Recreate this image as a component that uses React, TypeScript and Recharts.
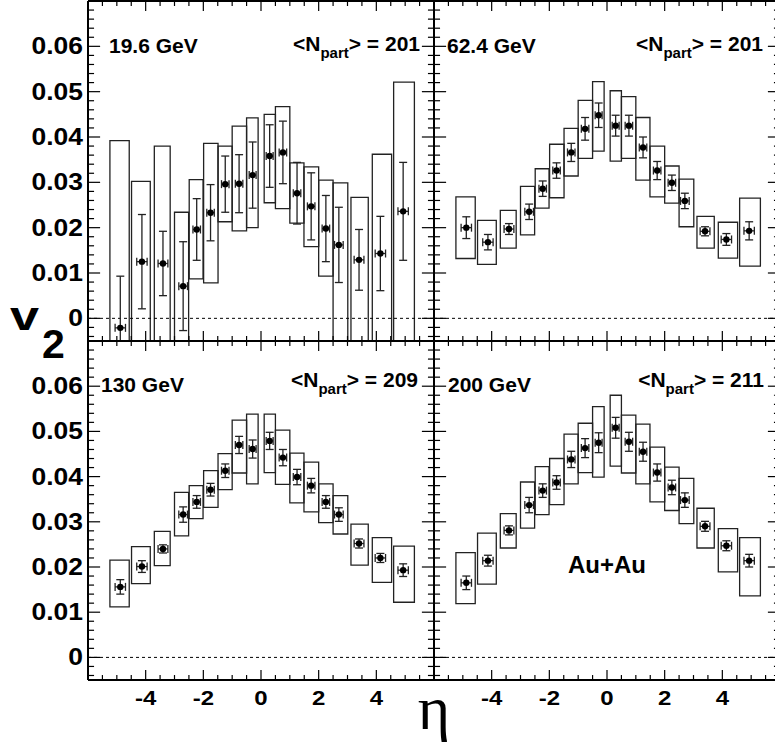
import React from 'react';
import { ComposedChart, Scatter, ErrorBar, XAxis, YAxis, ReferenceArea, ReferenceLine } from 'recharts';

// eta bins (shared by all four energies)
const etaCenters = [-4.88, -4.13, -3.4, -2.7, -2.23, -1.75, -1.24, -0.76, -0.29, 0.3, 0.76, 1.25, 1.74, 2.25, 2.7, 3.4, 4.14, 4.93];
const etaErr = [0.18, 0.18, 0.17, 0.15, 0.13, 0.13, 0.13, 0.13, 0.12, 0.12, 0.13, 0.13, 0.13, 0.13, 0.15, 0.17, 0.18, 0.18];
const boxLo = [-5.24, -4.49, -3.7, -3.0, -2.49, -1.99, -1.49, -1.0, -0.5, 0.11, 0.5, 1.0, 1.49, 2.0, 2.5, 3.12, 3.86, 4.6];
const boxHi = [-4.57, -3.84, -3.15, -2.51, -2.01, -1.49, -1.0, -0.5, -0.1, 0.5, 1.0, 1.49, 2.0, 2.5, 3.01, 3.72, 4.53, 5.32];

// 19.6 GeV
const v2_19 = [-0.0021, 0.0125, 0.0121, 0.0071, 0.0196, 0.0233, 0.0296, 0.0297, 0.0316, 0.0358, 0.0366, 0.0276, 0.0247, 0.0198, 0.0162, 0.0129, 0.0143, 0.0236];
const stat_19 = [0.0114, 0.0104, 0.0071, 0.0098, 0.0068, 0.0062, 0.0062, 0.0064, 0.0073, 0.0069, 0.0069, 0.0068, 0.0074, 0.0073, 0.0083, 0.0067, 0.0082, 0.0108];
const sysHi_19 = [0.0392, 0.0302, 0.038, 0.0234, 0.0306, 0.0386, 0.038, 0.0424, 0.0442, 0.045, 0.0467, 0.0343, 0.0334, 0.0305, 0.0299, 0.0267, 0.0362, 0.0521];
const sysLo_19 = [-0.041, -0.006, -0.014, -0.009, 0.0087, 0.0078, 0.0213, 0.0193, 0.02, 0.0255, 0.0242, 0.021, 0.0158, 0.0093, -0.006, -0.006, -0.008, -0.006];

// 62.4 GeV
const v2_62 = [0.02, 0.0168, 0.0197, 0.0235, 0.0286, 0.0326, 0.0366, 0.0418, 0.0448, 0.0425, 0.0425, 0.0377, 0.0326, 0.0299, 0.0259, 0.0192, 0.0174, 0.0193];
const stat_62 = [0.0024, 0.0017, 0.0012, 0.0017, 0.0017, 0.0017, 0.002, 0.0025, 0.0027, 0.0023, 0.0023, 0.0023, 0.002, 0.0017, 0.0017, 0.001, 0.0013, 0.002];
const sysHi_62 = [0.0268, 0.0216, 0.0238, 0.0291, 0.033, 0.0384, 0.0419, 0.0481, 0.0522, 0.0502, 0.0489, 0.0443, 0.038, 0.0336, 0.0307, 0.0225, 0.0212, 0.0265];
const sysLo_62 = [0.0132, 0.0119, 0.0155, 0.0184, 0.0243, 0.0266, 0.0314, 0.0353, 0.0369, 0.0347, 0.0353, 0.0305, 0.0268, 0.0254, 0.0202, 0.0155, 0.0133, 0.0115];

// 130 GeV
const v2_130 = [0.0156, 0.0201, 0.024, 0.0316, 0.0344, 0.0371, 0.0413, 0.047, 0.0461, 0.0479, 0.0442, 0.0399, 0.038, 0.0344, 0.0316, 0.0252, 0.022, 0.0193];
const stat_130 = [0.0016, 0.0013, 0.0009, 0.0017, 0.0014, 0.0014, 0.0015, 0.0019, 0.002, 0.0019, 0.0018, 0.0017, 0.0016, 0.0014, 0.0015, 0.001, 0.001, 0.0014];
const sysHi_130 = [0.0215, 0.0245, 0.0279, 0.0365, 0.038, 0.0413, 0.0451, 0.0525, 0.0538, 0.0538, 0.0503, 0.0452, 0.0432, 0.0384, 0.0358, 0.0295, 0.0265, 0.0246];
const sysLo_130 = [0.0112, 0.0163, 0.0203, 0.0269, 0.0307, 0.0332, 0.0371, 0.0408, 0.0384, 0.0409, 0.0383, 0.0342, 0.0322, 0.0298, 0.0273, 0.0204, 0.0166, 0.0122];

// 200 GeV
const v2_200 = [0.0165, 0.0214, 0.0281, 0.0337, 0.0369, 0.0387, 0.0438, 0.0463, 0.0475, 0.0508, 0.0477, 0.0455, 0.0409, 0.0376, 0.0348, 0.029, 0.0247, 0.0214];
const stat_200 = [0.0015, 0.0012, 0.001, 0.0017, 0.0015, 0.0015, 0.0018, 0.0021, 0.0022, 0.0023, 0.0021, 0.0021, 0.0019, 0.0016, 0.0016, 0.0011, 0.0011, 0.0014];
const sysHi_200 = [0.0232, 0.0275, 0.0318, 0.0388, 0.0422, 0.044, 0.0494, 0.0518, 0.0555, 0.058, 0.0536, 0.0516, 0.0465, 0.0421, 0.0396, 0.033, 0.0285, 0.0265];
const sysLo_200 = [0.0119, 0.0162, 0.0242, 0.0286, 0.0316, 0.0338, 0.0384, 0.0409, 0.0399, 0.0423, 0.0408, 0.0384, 0.0344, 0.0325, 0.0296, 0.0242, 0.0189, 0.0136];

const energies = ['19.6 GeV', '62.4 GeV', '130 GeV', '200 GeV'];
const nPart = [201, 201, 209, 211];

const xLabels = [-4, -2, 0, 2, 4];
const yLabels = [0, 0.01, 0.02, 0.03, 0.04, 0.05, 0.06];
const xTicks = Array.from({ length: 25 }, (_, i) => -6 + i * 0.5);
const yTicks = Array.from({ length: 38 }, (_, i) => Math.round((-0.004 + i * 0.002) * 1000) / 1000);

const X_DOMAIN: [number, number] = [-6, 6];
const Y_DOMAIN: [number, number] = [-0.005, 0.07];

const FONT = '"Liberation Sans", Arial, Helvetica, sans-serif';
const CHART_W = 782;
const CHART_H = 746;

const near = (a: number, b: number) => Math.abs(a - b) < 1e-6;
const isMajorX = (v: number) => near(v / 2, Math.round(v / 2));
const isMajorY = (v: number) => near(v * 100, Math.round(v * 100));

// tick lengths expressed in data units (major / minor)
const X_TICK_LEN = [0.0022, 0.0011]; // vertical ticks on the eta axes
const Y_TICK_LEN = [0.42, 0.21]; // horizontal ticks on the v2 axes

function xLabel(labels: boolean) {
  return (props: any) => {
    const { x, y, payload } = props;
    const v = payload.value;
    if (!labels || !xLabels.some((l) => near(l, v))) return <g />;
    return (
      <text
        transform={`translate(${x},${y + 25}) scale(1.2,1)`}
        textAnchor="middle"
        fontFamily={FONT}
        fontWeight="bold"
        fontSize={20}
        fill="#000"
      >
        {v}
      </text>
    );
  };
}

function yLabel(labels: boolean) {
  return (props: any) => {
    const { x, y, payload } = props;
    const v = payload.value;
    if (!labels || !yLabels.some((l) => near(l, v))) return <g />;
    return (
      <text
        transform={`translate(${x - 5},${y + 8}) scale(1.15,1)`}
        textAnchor="end"
        fontFamily={FONT}
        fontWeight="bold"
        fontSize={23}
        fill="#000"
      >
        {String(v)}
      </text>
    );
  };
}

const Dot = (p: any) => <circle cx={p.cx} cy={p.cy} r={3.2} fill="#000" />;

interface PanelProps {
  v2: number[];
  stat: number[];
  sysHi: number[];
  sysLo: number[];
  x0: number;
  x1: number;
  y0: number;
  y1: number;
  showX: boolean;
  showY: boolean;
}

function Panel({ v2, stat, sysHi, sysLo, x0, x1, y0, y1, showX, showY }: PanelProps) {
  const points = etaCenters.map((eta, i) => ({ x: eta, y: v2[i], ex: etaErr[i], ey: stat[i] }));
  const axisLine = { stroke: '#000', strokeWidth: 2 };
  const tickStyle = { stroke: '#000', strokeWidth: 1.2, ifOverflow: 'visible' as const };
  // clip each pad so error bars don't spill into neighbouring pads (keep label strips)
  const insetTop = y0 > 10 ? y0 - 1 : 0;
  const insetRight = Math.max(CHART_W - x1 - 1, 0);
  const insetBottom = showX ? 0 : CHART_H - y1 - 1;
  const insetLeft = showY ? 0 : x0 - 1;
  const clip = `inset(${insetTop}px ${insetRight}px ${insetBottom}px ${insetLeft}px)`;
  return (
    <div style={{ position: 'absolute', left: 0, top: 0, clipPath: clip }}>
      <ComposedChart width={CHART_W} height={CHART_H} margin={{ top: 0, right: 0, bottom: 0, left: 0 }}>
        <XAxis
          xAxisId={0}
          type="number"
          dataKey="x"
          domain={X_DOMAIN}
          allowDataOverflow
          ticks={xTicks}
          interval={0}
          tickSize={0}
          tickMargin={0}
          tickLine={false}
          axisLine={axisLine}
          height={CHART_H - y1}
          tick={xLabel(showX)}
        />
        <XAxis
          xAxisId="top"
          orientation="top"
          type="number"
          domain={X_DOMAIN}
          allowDataOverflow
          tick={false}
          tickLine={false}
          axisLine={axisLine}
          height={y0}
        />
        <YAxis
          yAxisId={0}
          type="number"
          dataKey="y"
          domain={Y_DOMAIN}
          allowDataOverflow
          ticks={yTicks}
          interval={0}
          tickSize={0}
          tickMargin={0}
          tickLine={false}
          axisLine={axisLine}
          width={x0}
          tick={yLabel(showY)}
        />
        <YAxis
          yAxisId="right"
          orientation="right"
          type="number"
          domain={Y_DOMAIN}
          allowDataOverflow
          tick={false}
          tickLine={false}
          axisLine={axisLine}
          width={CHART_W - x1}
        />
        {/* inward ticks on all four sides */}
        {xTicks.map((t) => {
          const len = isMajorX(t) ? X_TICK_LEN[0] : X_TICK_LEN[1];
          return [
            <ReferenceLine key={`b${t}`} segment={[{ x: t, y: Y_DOMAIN[0] }, { x: t, y: Y_DOMAIN[0] + len }]} {...tickStyle} />,
            <ReferenceLine key={`t${t}`} segment={[{ x: t, y: Y_DOMAIN[1] }, { x: t, y: Y_DOMAIN[1] - len }]} {...tickStyle} />,
          ];
        })}
        {yTicks.map((t) => {
          const len = isMajorY(t) ? Y_TICK_LEN[0] : Y_TICK_LEN[1];
          return [
            <ReferenceLine key={`l${t}`} segment={[{ x: X_DOMAIN[0], y: t }, { x: X_DOMAIN[0] + len, y: t }]} {...tickStyle} />,
            <ReferenceLine key={`r${t}`} segment={[{ x: X_DOMAIN[1], y: t }, { x: X_DOMAIN[1] - len, y: t }]} {...tickStyle} />,
          ];
        })}
        {boxLo.map((lo, i) => (
          <ReferenceArea
            key={i}
            x1={lo}
            x2={boxHi[i]}
            y1={sysLo[i]}
            y2={sysHi[i]}
            ifOverflow="hidden"
            fill="none"
            fillOpacity={0}
            stroke="#222"
            strokeWidth={1.3}
          />
        ))}
        <ReferenceLine y={0} stroke="#000" strokeWidth={1} strokeDasharray="3 3" ifOverflow="hidden" />
        <Scatter data={points} dataKey="y" isAnimationActive={false} shape={Dot}>
          <ErrorBar dataKey="ey" direction="y" width={4} stroke="#222" strokeWidth={1.3} isAnimationActive={false} />
          <ErrorBar dataKey="ex" direction="x" width={4} stroke="#222" strokeWidth={1.3} isAnimationActive={false} />
        </Scatter>
      </ComposedChart>
    </div>
  );
}

export default function App() {
  const boldText = { fontFamily: FONT, fontWeight: 'bold' as const, fill: '#000' };
  return (
    <div style={{ position: 'fixed', left: 0, top: 0, width: 775, height: 746, overflow: 'hidden', background: '#fff' }}>
      <Panel v2={v2_19} stat={stat_19} sysHi={sysHi_19} sysLo={sysLo_19} x0={88} x1={434} y0={1} y1={341} showX={false} showY />
      <Panel v2={v2_62} stat={stat_62} sysHi={sysHi_62} sysLo={sysLo_62} x0={434} x1={780} y0={1} y1={341} showX={false} showY={false} />
      <Panel v2={v2_130} stat={stat_130} sysHi={sysHi_130} sysLo={sysLo_130} x0={88} x1={434} y0={341} y1={680} showX showY />
      <Panel v2={v2_200} stat={stat_200} sysHi={sysHi_200} sysLo={sysLo_200} x0={434} x1={780} y0={341} y1={680} showX showY={false} />
      <svg width={775} height={746} style={{ position: 'absolute', left: 0, top: 0, pointerEvents: 'none' }}>
        {/* energy labels */}
        <text x={109} y={52.7} fontSize={21} {...boldText}>{energies[0]}</text>
        <text x={447} y={52.7} fontSize={21} {...boldText}>{energies[1]}</text>
        <text x={101} y={391.7} fontSize={21} {...boldText}>{energies[2]}</text>
        <text x={448} y={391.7} fontSize={21} {...boldText}>{energies[3]}</text>
        {/* <Npart> labels */}
        {[
          [420, 51],
          [763, 51],
          [418, 386.5],
          [764, 386.5],
        ].map(([x, y], i) => (
          <text key={i} x={x} y={y} textAnchor="end" fontSize={21} {...boldText}>
            {'<N'}
            <tspan fontSize={15} dy={7}>part</tspan>
            <tspan dy={-7}>{`> = ${nPart[i]}`}</tspan>
          </text>
        ))}
        <text x={607} y={573} textAnchor="middle" fontSize={24} {...boldText}>Au+Au</text>
        {/* axis titles */}
        <text x={10} y={330} fontSize={40} textLength={29} lengthAdjust="spacingAndGlyphs" {...boldText}>v</text>
        <text x={42} y={358} fontSize={41} {...boldText}>2</text>
        <text x={434} y={729} textAnchor="middle" fontSize={62} fontFamily='"Liberation Serif", "DejaVu Serif", serif' fill="#000">η</text>
      </svg>
    </div>
  );
}
